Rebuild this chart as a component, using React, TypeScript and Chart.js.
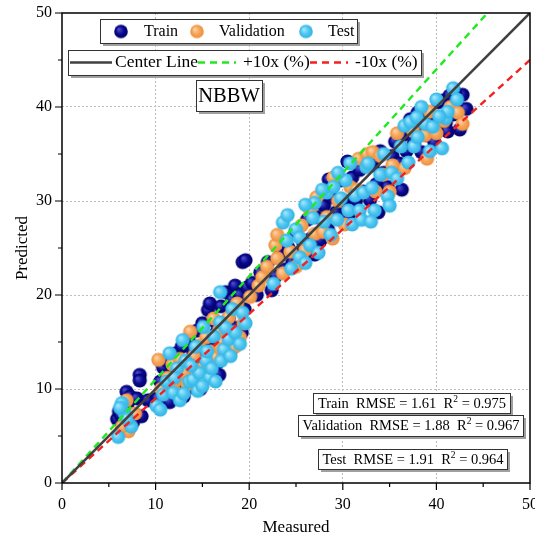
import React, { useEffect, useRef } from "react";
import { Chart, registerables } from "chart.js";
Chart.register(...registerables);

// ---------- data (measured, predicted) ----------
const trainPoints: [number, number][] = [
  [5.9, 6.8], [6.1, 7.6], [6.3, 7.2], [6.5, 7.9], [6.9, 9.7], [7.3, 9.2], [8.3, 11.5], [8.3, 10.9],
  [8.5, 7.1], [7.6, 6.5], [6.6, 6.3], [7.0, 8.4], [8.0, 9.0], [9.2, 8.8],
  [10.2, 9.0], [10.5, 10.8], [10.8, 12.3], [11.2, 13.0], [11.0, 9.5], [11.8, 11.5], [12.2, 13.8],
  [12.5, 10.5], [12.8, 14.5], [13.2, 12.0], [13.5, 15.3], [13.8, 10.2], [14.0, 14.0], [14.4, 16.2],
  [14.6, 12.8], [15.0, 17.0], [15.2, 13.5], [15.6, 18.4], [15.8, 19.1], [16.0, 15.0], [16.3, 17.2],
  [16.6, 12.8], [17.0, 18.8], [17.2, 16.0], [17.5, 20.3], [17.8, 17.5], [18.2, 19.5], [18.5, 21.0],
  [18.6, 16.5], [19.0, 20.0], [19.3, 23.5], [19.6, 23.7], [19.5, 18.5], [19.8, 20.8], [20.3, 21.3],
  [20.8, 20.0], [21.2, 22.4], [11.5, 8.6], [13.0, 9.2], [14.8, 10.0], [16.8, 11.5], [18.0, 14.0],
  [19.2, 16.0], [12.0, 12.4], [16.5, 16.0],
  [22.0, 23.5], [22.4, 20.5], [22.8, 22.0], [23.3, 24.2], [23.8, 22.7], [24.2, 25.0], [24.6, 23.4],
  [25.0, 26.8], [25.3, 24.3], [25.8, 25.5], [26.2, 28.0], [26.6, 26.0], [27.2, 28.3], [27.6, 25.8],
  [28.0, 29.5], [28.4, 27.0], [28.8, 30.4], [29.3, 28.8], [29.8, 32.2], [30.2, 30.0], [30.6, 28.3],
  [31.0, 32.5], [31.4, 30.0], [31.8, 33.3], [32.2, 31.0], [32.9, 30.1], [33.2, 33.8], [33.6, 31.8],
  [34.0, 35.3], [34.4, 33.0], [34.8, 31.5], [35.3, 34.8], [35.6, 36.3], [28.5, 32.3], [30.5, 34.2],
  [33.8, 28.8], [27.0, 24.3],
  [36.0, 34.0], [36.3, 31.2], [36.4, 37.0], [36.8, 35.3], [37.2, 38.7], [37.6, 36.2], [38.0, 39.4],
  [38.4, 35.2], [38.6, 39.4], [39.0, 37.0], [39.4, 38.2], [39.8, 36.2], [40.2, 40.5], [40.7, 40.7],
  [41.0, 38.3], [41.4, 41.2], [41.8, 39.2], [42.2, 40.2], [42.5, 37.6], [42.8, 41.3], [43.2, 39.8],
  [42.0, 41.5], [40.4, 38.8], [37.8, 37.8], [41.2, 37.4],
];

const validationPoints: [number, number][] = [
  [6.9, 8.8], [7.1, 5.5], [6.4, 6.0], [7.8, 7.4],
  [10.3, 13.1], [10.6, 10.0], [11.3, 11.2], [11.8, 12.6], [12.3, 11.0], [12.6, 13.2], [13.0, 11.8],
  [13.4, 10.5], [13.7, 16.1], [14.1, 13.5], [14.6, 14.6], [15.0, 12.2], [15.4, 15.5], [15.9, 14.0],
  [16.5, 13.4], [16.8, 16.3], [17.3, 15.0], [17.8, 17.6], [18.2, 16.0], [18.7, 19.1], [19.0, 15.5],
  [19.4, 17.0], [20.1, 19.8], [21.0, 21.0], [12.0, 9.8], [14.4, 11.8], [16.2, 17.5], [17.0, 14.2],
  [18.5, 14.5],
  [21.4, 21.9], [21.9, 23.0], [22.8, 25.3], [23.0, 26.4], [23.0, 23.9], [23.6, 22.3], [24.4, 24.6],
  [25.0, 23.0], [25.6, 27.4], [26.0, 24.8], [26.5, 29.0], [27.0, 26.5], [27.9, 26.7], [28.3, 28.3],
  [28.9, 26.0], [29.5, 30.0], [30.2, 27.5], [30.8, 31.5], [31.5, 31.2], [31.7, 34.5], [32.6, 35.0],
  [33.2, 35.2], [33.5, 31.0], [34.3, 32.8], [35.3, 33.8], [27.2, 30.4], [29.0, 32.5], [34.0, 34.8],
  [35.0, 31.0],
  [35.8, 37.2], [36.6, 33.5], [37.5, 37.5], [38.8, 37.0], [39.3, 39.5], [40.0, 37.2], [40.8, 38.5],
  [41.5, 40.0], [42.3, 39.4], [42.8, 38.2], [39.0, 34.5],
];

const testPoints: [number, number][] = [
  [6.0, 4.9], [6.4, 8.5], [6.7, 7.4], [7.4, 6.0], [6.2, 8.0], [7.0, 6.8],
  [10.1, 8.2], [10.5, 7.8], [10.8, 9.4], [11.2, 10.8], [11.5, 13.8], [11.9, 9.6], [12.3, 12.2],
  [12.6, 8.8], [12.9, 15.2], [13.2, 13.0], [13.6, 10.8], [14.0, 11.0], [14.3, 14.5], [14.7, 11.7],
  [15.1, 16.6], [15.4, 13.0], [15.8, 11.2], [16.2, 15.6], [16.4, 10.8], [16.9, 17.1], [16.9, 20.3],
  [17.3, 14.2], [17.8, 15.3], [18.2, 18.5], [18.5, 16.0], [19.0, 14.8], [19.3, 18.1], [19.6, 17.0],
  [13.0, 9.5], [14.5, 9.8], [15.0, 10.3], [12.0, 11.2], [13.8, 12.5], [15.5, 14.0], [16.0, 12.2],
  [17.0, 13.0], [17.5, 16.5], [18.0, 13.5],
  [22.6, 21.2], [23.6, 27.7], [24.1, 28.5], [24.0, 25.8], [24.5, 22.8], [25.0, 27.0], [25.4, 26.1],
  [25.4, 24.0], [26.0, 23.4], [26.5, 25.3], [26.8, 28.2], [27.4, 24.5], [28.0, 27.8], [28.3, 30.9],
  [28.7, 26.4], [29.0, 31.5], [29.4, 28.0], [29.8, 30.3], [30.3, 32.2], [30.6, 29.0], [31.0, 27.5],
  [31.3, 30.6], [31.8, 29.0], [32.2, 30.9], [32.5, 33.6], [32.7, 34.0], [33.1, 31.4], [33.4, 29.0],
  [34.0, 32.8], [34.4, 35.0], [34.8, 30.5], [35.2, 33.0], [35.8, 32.4], [27.0, 29.8], [27.8, 31.2],
  [29.5, 33.0], [30.8, 34.0], [26.0, 29.6], [32.0, 28.0], [33.0, 27.8], [35.0, 29.5],
  [36.2, 35.8], [36.6, 38.0], [37.0, 34.1], [37.2, 38.4], [37.6, 35.8], [38.0, 36.8], [38.4, 40.0],
  [38.8, 38.2], [39.3, 35.3], [39.6, 37.9], [40.0, 40.8], [40.6, 35.6], [41.0, 38.8], [41.2, 39.5],
  [41.8, 42.0], [42.2, 40.8], [40.3, 39.0], [37.9, 38.9],
];

const lineX = [0, 50];
const tickValues = [0, 10, 20, 30, 40, 50];
const minorTickValues = [5, 15, 25, 35, 45];
const statsLines = [
  { name: "Train", rmse: "1.61", r2: "0.975" },
  { name: "Validation", rmse: "1.88", r2: "0.967" },
  { name: "Test", rmse: "1.91", r2: "0.964" },
];

const SERIF = '"Liberation Serif", "Times New Roman", serif';

function sphere(base: string, light: string, dark: string, r: number) {
  const c = document.createElement("canvas");
  const s = Math.ceil(r * 2 + 2);
  c.width = s;
  c.height = s;
  const g = c.getContext("2d")!;
  const cx = s / 2, cy = s / 2;
  const grd = g.createRadialGradient(cx - r * 0.35, cy - r * 0.35, r * 0.05, cx, cy, r);
  grd.addColorStop(0, light);
  grd.addColorStop(0.55, base);
  grd.addColorStop(1, dark);
  g.fillStyle = grd;
  g.beginPath();
  g.arc(cx, cy, r, 0, Math.PI * 2);
  g.fill();
  return c;
}

export default function App() {
  const ref = useRef<HTMLCanvasElement>(null);
  useEffect(() => {
    const canvas = ref.current!;
    const trainImg = sphere("#0a0a8e", "#4f4fd0", "#00006a", 7.1);
    const valImg = sphere("#f6a458", "#fdd4a6", "#ec8f3e", 7.1);
    const testImg = sphere("#4dc7f2", "#a8e8fb", "#33b2e2", 7.1);
    const trainLeg = sphere("#0a0a8e", "#4f4fd0", "#00006a", 6.8);
    const valLeg = sphere("#f6a458", "#fdd4a6", "#ec8f3e", 6.8);
    const testLeg = sphere("#4dc7f2", "#a8e8fb", "#33b2e2", 6.8);

    const box = (ctx: CanvasRenderingContext2D, x: number, y: number, w: number, h: number) => {
      ctx.fillStyle = "#a0a0a0";
      ctx.fillRect(x + 3, y + 3, w, h);
      ctx.fillStyle = "#ffffff";
      ctx.fillRect(x, y, w, h);
      ctx.strokeStyle = "#333";
      ctx.lineWidth = 1;
      ctx.strokeRect(x + 0.5, y + 0.5, w, h);
      ctx.fillStyle = "#000";
    };

    const deco = {
      id: "deco",
      afterDraw(chart: any) {
        const ctx: CanvasRenderingContext2D = chart.ctx;
        const xs = chart.scales.x, ys = chart.scales.y;
        const a = chart.chartArea;
        ctx.save();
        // frame
        ctx.strokeStyle = "#000";
        ctx.lineWidth = 1.5;
        ctx.beginPath();
        ctx.moveTo(a.left, a.bottom);
        ctx.lineTo(a.left, a.top);
        ctx.lineTo(a.right, a.top);
        ctx.lineTo(a.right, a.bottom);
        ctx.lineTo(a.left, a.bottom);
        ctx.stroke();
        ctx.lineWidth = 1.2;
        ctx.beginPath();
        for (const v of tickValues) {
          const px = xs.getPixelForValue(v);
          ctx.moveTo(px, a.bottom);
          ctx.lineTo(px, a.bottom + 7);
          const py = ys.getPixelForValue(v);
          ctx.moveTo(a.left, py);
          ctx.lineTo(a.left - 7, py);
        }
        for (const v of minorTickValues) {
          const px = xs.getPixelForValue(v);
          ctx.moveTo(px, a.bottom);
          ctx.lineTo(px, a.bottom + 4);
          const py = ys.getPixelForValue(v);
          ctx.moveTo(a.left, py);
          ctx.lineTo(a.left - 4, py);
        }
        ctx.stroke();

        // legend 1
        box(ctx, 100, 19, 257, 24);
        ctx.textBaseline = "middle";
        ctx.textAlign = "left";
        ctx.font = `16px ${SERIF}`;
        const ly = 31.5;
        ctx.drawImage(trainLeg, 121 - trainLeg.width / 2, ly - trainLeg.height / 2);
        ctx.fillText("Train", 144, ly);
        ctx.drawImage(valLeg, 197 - valLeg.width / 2, ly - valLeg.height / 2);
        ctx.fillText("Validation", 219, ly);
        ctx.drawImage(testLeg, 306 - testLeg.width / 2, ly - testLeg.height / 2);
        ctx.fillText("Test", 328, ly);

        // legend 2
        box(ctx, 68, 50, 353, 25);
        const l2 = 62.5;
        ctx.lineWidth = 2.5;
        ctx.strokeStyle = "#404040";
        ctx.beginPath();
        ctx.moveTo(70, l2);
        ctx.lineTo(112, l2);
        ctx.stroke();
        ctx.setLineDash([7, 5]);
        ctx.strokeStyle = "#1eea1e";
        ctx.beginPath();
        ctx.moveTo(198, l2);
        ctx.lineTo(236, l2);
        ctx.stroke();
        ctx.strokeStyle = "#f52020";
        ctx.beginPath();
        ctx.moveTo(310, l2);
        ctx.lineTo(348, l2);
        ctx.stroke();
        ctx.setLineDash([]);
        ctx.fillStyle = "#000";
        ctx.font = `17.5px ${SERIF}`;
        ctx.fillText("Center Line", 115, l2);
        ctx.fillText("+10x (%)", 243, l2);
        ctx.fillText("-10x (%)", 355, l2);

        // NBBW
        box(ctx, 196, 80, 66, 31);
        ctx.textAlign = "center";
        ctx.fillStyle = "#000";
        ctx.font = `20.5px ${SERIF}`;
        ctx.fillText("NBBW", 229, 96.5);

        // stats
        const sb = [
          { x: 313, y: 393, w: 197, h: 20 },
          { x: 298, y: 415, w: 225, h: 21 },
          { x: 318, y: 449, w: 189, h: 20 },
        ];
        statsLines.forEach((s, i) => {
          const b = sb[i];
          box(ctx, b.x, b.y, b.w, b.h);
          const main = `${s.name}  RMSE = ${s.rmse}  R`;
          const tail = ` = ${s.r2}`;
          ctx.font = `14.5px ${SERIF}`;
          const w1 = ctx.measureText(main).width;
          const w3 = ctx.measureText(tail).width;
          ctx.font = `9.5px ${SERIF}`;
          const w2 = ctx.measureText("2").width;
          const total = w1 + w2 + w3;
          const x0 = b.x + b.w / 2 - total / 2 + 0.5;
          const cy = b.y + b.h / 2 + 1;
          ctx.textAlign = "left";
          ctx.fillStyle = "#000";
          ctx.font = `14.5px ${SERIF}`;
          ctx.fillText(main, x0, cy);
          ctx.font = `9.5px ${SERIF}`;
          ctx.fillText("2", x0 + w1, cy - 5);
          ctx.font = `14.5px ${SERIF}`;
          ctx.fillText(tail, x0 + w1 + w2, cy);
        });
        ctx.restore();
      },
    };

    const gridColor = (c: any) =>
      c.tick && (c.tick.value === 0 || c.tick.value === 50) ? "rgba(0,0,0,0)" : "#bdbdbd";

    const toXY = (p: [number, number][]) => p.map(([x, y]) => ({ x, y }));
    const chart = new Chart(canvas, {
      type: "scatter",
      data: {
        datasets: [
          {
            label: "Center Line",
            type: "line",
            data: lineX.map((x) => ({ x, y: x })),
            borderColor: "#404040",
            borderWidth: 2.6,
            pointRadius: 0,
            order: 0,
          } as any,
          {
            label: "+10x (%)",
            type: "line",
            data: lineX.map((x) => ({ x, y: x * 1.1 })),
            borderColor: "#1eea1e",
            borderWidth: 2.4,
            borderDash: [7, 5],
            pointRadius: 0,
            order: 0,
          } as any,
          {
            label: "-10x (%)",
            type: "line",
            data: lineX.map((x) => ({ x, y: x * 0.9 })),
            borderColor: "#f52020",
            borderWidth: 2.4,
            borderDash: [7, 5],
            pointRadius: 0,
            order: 0,
          } as any,
          { label: "Train", data: toXY(trainPoints), pointStyle: trainImg, order: 3 } as any,
          { label: "Validation", data: toXY(validationPoints), pointStyle: valImg, order: 2 } as any,
          { label: "Test", data: toXY(testPoints), pointStyle: testImg, order: 1 } as any,
        ],
      },
      options: {
        animation: false,
        responsive: false,
        events: [],
        layout: { padding: { top: 13, right: 5, left: 0, bottom: 0 }, autoPadding: false } as any,
        plugins: { legend: { display: false }, tooltip: { enabled: false } },
        scales: {
          x: {
            type: "linear",
            min: 0,
            max: 50,
            ticks: { stepSize: 10, padding: 5, color: "#000", font: { family: SERIF, size: 16 } },
            grid: { color: gridColor, lineWidth: 1, tickLength: 7, tickColor: "rgba(0,0,0,0)" } as any,
            border: { display: false, dash: [2, 2] },
            title: { display: true, text: "Measured", color: "#000", font: { family: SERIF, size: 17 }, padding: { top: 5, bottom: 0 } },
            afterFit: (s: any) => { s.height = 55; s.paddingLeft = 0; s.paddingRight = 0; },
          },
          y: {
            type: "linear",
            min: 0,
            max: 50,
            ticks: { stepSize: 10, padding: 3, color: "#000", font: { family: SERIF, size: 16 } },
            grid: { color: gridColor, lineWidth: 1, tickLength: 7, tickColor: "rgba(0,0,0,0)" } as any,
            border: { display: false, dash: [2, 2] },
            title: { display: true, text: "Predicted", color: "#000", font: { family: SERIF, size: 17 }, padding: { top: 12, bottom: 0 } },
            afterFit: (s: any) => { s.width = 62; s.paddingTop = 0; s.paddingBottom = 0; },
          },
        },
      } as any,
      plugins: [deco],
    });
    return () => chart.destroy();
  }, []);
  return (
    <div style={{ position: "fixed", left: 0, top: 0, width: 535, height: 538, background: "#fff" }}>
      <canvas ref={ref} width={535} height={538} style={{ width: 535, height: 538, display: "block" }} />
    </div>
  );
}
